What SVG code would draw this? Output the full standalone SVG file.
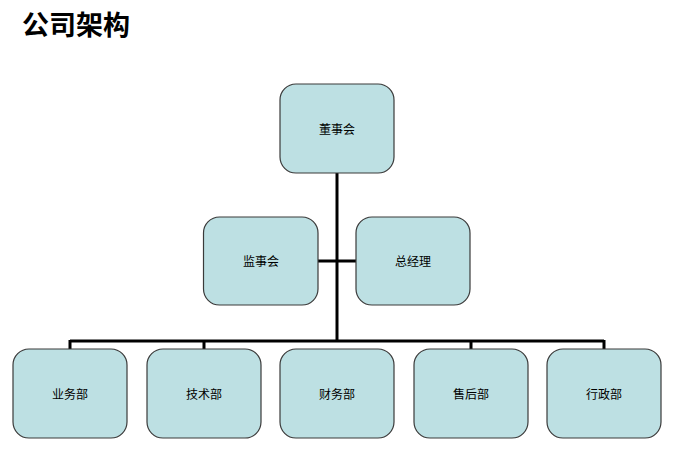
<svg xmlns="http://www.w3.org/2000/svg" width="681" height="470" viewBox="0 0 681 470">
<style>
.n rect{fill:#bde0e3;stroke:#3a3a3a;stroke-width:1.2}
.n text{font-family:"Liberation Sans","Noto Sans CJK SC",sans-serif;font-size:12px;fill:#000;text-anchor:middle}
.c{stroke:#000;stroke-width:3;fill:none}
.t{font-family:"Noto Sans CJK SC",sans-serif;font-size:27px;font-weight:bold;fill:#000}
</style>
<rect width="681" height="470" fill="#fff"/>
<text class="t" x="22" y="35">公司架构</text>
<g id="connectors">
<path class="c" d="M337 173V341"/>
<path class="c" d="M318 261H356"/>
<path class="c" d="M70 341H604"/>
<path class="c" d="M70 340V349M204 340V349M471 340V349M604 340V349"/>
</g>
<g id="n-dongshihui" class="n"><rect x="280" y="84" width="114" height="89" rx="16"/><text x="337" y="134">董事会</text></g>
<g id="n-jianshihui" class="n"><rect x="203.5" y="217" width="114.5" height="88" rx="16"/><text x="261" y="266">监事会</text></g>
<g id="n-zongjingli" class="n"><rect x="356" y="217" width="114" height="88" rx="16"/><text x="413" y="266">总经理</text></g>
<g id="n-yewubu" class="n"><rect x="13" y="349" width="114" height="89" rx="16"/><text x="70" y="399">业务部</text></g>
<g id="n-jishubu" class="n"><rect x="147" y="349" width="114" height="89" rx="16"/><text x="204" y="399">技术部</text></g>
<g id="n-caiwubu" class="n"><rect x="280" y="349" width="114" height="89" rx="16"/><text x="337" y="399">财务部</text></g>
<g id="n-shouhoubu" class="n"><rect x="414" y="349" width="114" height="89" rx="16"/><text x="471" y="399">售后部</text></g>
<g id="n-xingzhengbu" class="n"><rect x="547" y="349" width="114" height="89" rx="16"/><text x="604" y="399">行政部</text></g>
</svg>
